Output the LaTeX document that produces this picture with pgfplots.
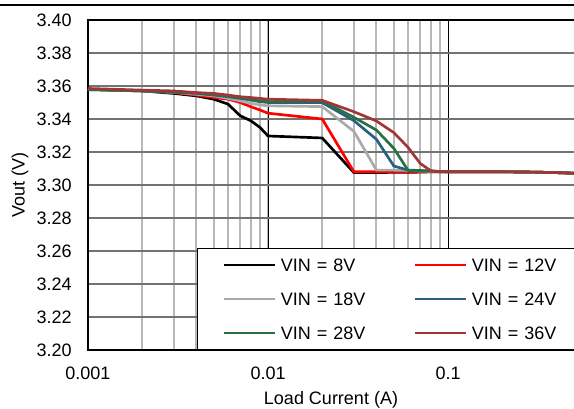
\documentclass[border=0pt]{standalone}
\usepackage{pgfplots}
\pgfplotsset{compat=1.18}
\usepackage{fontspec}
\setmainfont{Liberation Sans}

\definecolor{v8}{RGB}{0,0,0}
\definecolor{v12}{RGB}{255,0,0}
\definecolor{v18}{RGB}{170,170,170}
\definecolor{v24}{RGB}{40,96,128}
\definecolor{v28}{RGB}{40,112,66}
\definecolor{v36}{RGB}{163,53,53}
\newcommand\cf{\fontsize{13.5pt}{16pt}\selectfont}

\begin{document}
\begin{tikzpicture}
\begin{axis}[
  name=ax,
  xmode=log,
  scale only axis,
  width=370pt, height=247.5pt,
  xmin=0.001, xmax=0.55,
  ymin=3.20, ymax=3.40,
  xtick={0.001,0.01,0.1},
  xticklabels={0.001,0.01,0.1},
  ytick={3.20,3.22,3.24,3.26,3.28,3.30,3.32,3.34,3.36,3.38,3.40},
  /pgf/number format/assume math mode=true,
  yticklabel style={/pgf/number format/.cd,fixed,fixed zerofill,precision=2,/tikz/.cd},
  tick label style={font=\cf},
  yticklabel style={inner sep=0pt, xshift=-12pt},
  xticklabel style={inner sep=0pt, yshift=-12.5pt},
  major tick length=0pt, minor tick length=0pt,
  grid=both,
  major x grid style={black, line width=0.75pt},
  minor x grid style={black!28, line width=1.5pt},
  major y grid style={black!55, line width=1pt},
  axis line style={line width=1.5pt},
  xlabel={Load Current (A)},
  ylabel={Vout (V)},
  label style={font=\cf},
  xlabel style={at={(rel axis cs:0.4926,0)}, anchor=north, inner sep=0pt, yshift=-30.6pt},
  ylabel style={at={(rel axis cs:0,0.5)}, anchor=south, inner sep=0pt, yshift=44.6pt},
  legend columns=2,
  legend cell align=left,
  legend style={at={(rel axis cs:0.221,0)}, anchor=south west, draw=black,
    line width=1.1pt, fill=white, font=\cf,
    inner xsep=18.75pt, inner ysep=7.5pt, row sep=15.8pt,
    nodes={inner sep=0pt, text depth=0pt, text height=9.7pt, text width=75pt},
    /tikz/every odd column/.style={column sep=3.75pt},
    /tikz/every even column/.style={column sep=24.75pt}},
  legend image code/.code={\draw[#1, line width=1.5pt] (0pt,0pt) -- (38.25pt,0pt);},
  every axis plot/.append style={no marks, line width=2pt, line join=round},
]
% VIN = 8V
\addplot[v8] coordinates {
 (0.001,3.358) (0.002,3.357) (0.003,3.3555) (0.004,3.354) (0.005,3.352)
 (0.006,3.349) (0.007,3.342) (0.008,3.339) (0.009,3.335) (0.01,3.3297)
 (0.02,3.3285) (0.03,3.3075) (0.04,3.3075) (0.05,3.3077) (0.06,3.3077)
 (0.07,3.3078) (0.08,3.308) (0.09,3.308) (0.1,3.308) (0.2,3.308)
 (0.3,3.3078) (0.4,3.3075) (0.55,3.307)};
% VIN = 12V
\addplot[v12] coordinates {
 (0.001,3.358) (0.002,3.357) (0.003,3.356) (0.004,3.3545) (0.005,3.353)
 (0.006,3.352) (0.007,3.350) (0.008,3.3475) (0.009,3.3455) (0.01,3.3435)
 (0.02,3.340) (0.03,3.308) (0.04,3.308) (0.05,3.308) (0.06,3.308)
 (0.07,3.308) (0.08,3.308) (0.09,3.308) (0.1,3.308) (0.2,3.308)
 (0.3,3.3078) (0.4,3.3075) (0.55,3.307)};
% VIN = 18V
\addplot[v18] coordinates {
 (0.001,3.358) (0.002,3.357) (0.003,3.3562) (0.004,3.355) (0.005,3.354)
 (0.006,3.3525) (0.007,3.351) (0.008,3.3495) (0.009,3.3485) (0.01,3.348)
 (0.02,3.3475) (0.03,3.3325) (0.04,3.309) (0.05,3.309) (0.06,3.3088)
 (0.07,3.3085) (0.08,3.3082) (0.09,3.308) (0.1,3.308) (0.2,3.308)
 (0.3,3.3078) (0.4,3.3075) (0.55,3.307)};
% VIN = 24V
\addplot[v24] coordinates {
 (0.001,3.3578) (0.002,3.357) (0.003,3.3562) (0.004,3.3555) (0.005,3.3545)
 (0.006,3.3535) (0.007,3.3525) (0.008,3.3515) (0.009,3.3505) (0.01,3.350)
 (0.02,3.3499) (0.03,3.339) (0.04,3.3277) (0.05,3.3115) (0.06,3.309)
 (0.07,3.3088) (0.08,3.3085) (0.09,3.3082) (0.1,3.308) (0.2,3.308)
 (0.3,3.3078) (0.4,3.3075) (0.55,3.307)};
% VIN = 28V
\addplot[v28] coordinates {
 (0.001,3.3578) (0.002,3.3572) (0.003,3.3565) (0.004,3.3558) (0.005,3.355)
 (0.006,3.354) (0.007,3.353) (0.008,3.352) (0.009,3.351) (0.01,3.3505)
 (0.02,3.351) (0.03,3.341) (0.04,3.3333) (0.05,3.3222) (0.06,3.3088)
 (0.07,3.3086) (0.08,3.3084) (0.09,3.3082) (0.1,3.308) (0.2,3.308)
 (0.3,3.3078) (0.4,3.3075) (0.55,3.307)};
% VIN = 36V
\addplot[v36] coordinates {
 (0.001,3.3585) (0.002,3.3575) (0.003,3.357) (0.004,3.356) (0.005,3.3555)
 (0.006,3.3545) (0.007,3.3535) (0.008,3.353) (0.009,3.3525) (0.01,3.352)
 (0.02,3.3513) (0.03,3.3444) (0.04,3.3388) (0.05,3.3317) (0.06,3.3228)
 (0.07,3.3131) (0.08,3.3087) (0.09,3.308) (0.1,3.308) (0.2,3.308)
 (0.3,3.3078) (0.4,3.3075) (0.55,3.307)};
\legend{VIN = 8V, VIN = 12V, VIN = 18V, VIN = 24V, VIN = 28V, VIN = 36V}
\end{axis}
\draw[line width=1.1pt] ([xshift=-66pt,yshift=11.25pt]ax.north west) -- ++(430.5pt,0pt);
\pgfresetboundingbox
\path ([xshift=-66pt,yshift=15pt]ax.north west) rectangle ([xshift=364.5pt,yshift=-44.25pt]ax.south west);
\end{tikzpicture}
\end{document}
